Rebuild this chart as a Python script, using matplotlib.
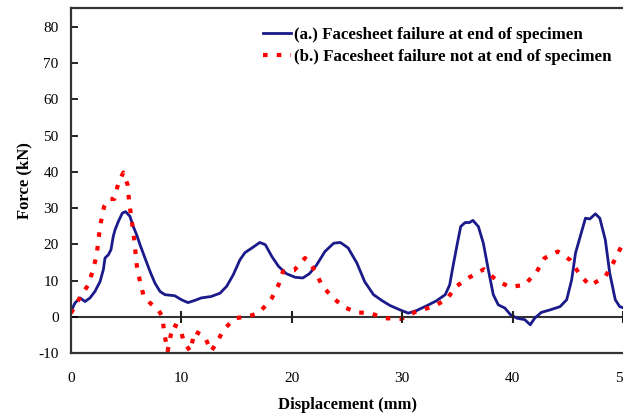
import numpy as np
import matplotlib
matplotlib.use('Agg')
import matplotlib.pyplot as plt

# (a.) facesheet failure at end of specimen
disp_a = [0.0, 0.36, 0.82, 1.27, 1.72, 2.17, 2.63, 2.93, 3.08, 3.38, 3.62, 3.83, 3.99, 4.29, 4.65,
          4.95, 5.34, 5.64, 5.95, 6.25, 6.7, 7.16, 7.6, 8.06, 8.5, 9.4, 10.0, 10.6, 11.2, 11.8,
          12.7, 13.5, 14.1, 14.7, 15.3, 15.76, 16.4, 17.1, 17.6, 18.2, 18.8, 19.5, 20.3, 21.0,
          21.6, 22.25, 23.0, 23.8, 24.4, 25.1, 25.9, 26.6, 27.4, 28.2, 28.9, 29.8, 30.55, 31.3,
          32.2, 33.1, 33.9, 34.3, 34.6, 35.0, 35.3, 35.7, 36.1, 36.4, 36.9, 37.35, 37.8, 38.25,
          38.7, 39.3, 39.8, 40.4, 41.1, 41.6, 42.0, 42.6, 43.4, 44.3, 44.9, 45.35, 45.7, 46.3,
          46.6, 47.0, 47.5, 47.9, 48.4, 48.8, 49.3, 49.7, 50.0]
force_a = [1.5, 3.8, 5.2, 4.2, 5.2, 7.0, 9.7, 13.0, 16.2, 17.1, 18.5, 22.2, 24.0, 26.3, 28.6,
           29.0, 27.7, 24.9, 22.6, 19.9, 16.2, 12.5, 9.3, 7.0, 6.1, 5.8, 4.7, 3.9, 4.5, 5.2,
           5.6, 6.5, 8.4, 11.6, 15.7, 17.7, 19.0, 20.5, 19.9, 16.6, 13.9, 11.9, 10.9, 10.7,
           11.9, 14.3, 18.0, 20.3, 20.5, 19.0, 14.8, 9.7, 6.1, 4.4, 3.1, 1.9, 1.0, 1.7,
           3.0, 4.4, 6.1, 8.8, 13.9, 20.3, 24.9, 26.0, 26.0, 26.6, 24.9, 20.3, 13.0, 6.1,
           3.3, 2.4, 0.6, -0.4, -0.8, -2.2, -0.4, 1.2, 1.9, 2.8, 4.7, 10.2, 17.6, 24.0,
           27.2, 27.0, 28.4, 27.2, 21.2, 12.0, 4.7, 2.8, 2.5]

# (b.) facesheet failure not at end of specimen
disp_b = [0.0, 0.9, 1.57, 2.0, 2.33, 2.5, 2.72, 3.0, 3.44, 3.92, 4.29, 4.74, 5.13, 5.25, 5.43,
          5.64, 5.8, 5.95, 6.25, 6.55, 7.16, 7.9, 8.27, 8.45, 8.75, 9.06, 9.27, 9.9, 10.2, 10.8,
          11.2, 12.1, 12.7, 13.2, 13.85, 14.85, 16.06, 16.97, 17.7, 18.2, 18.8, 19.2, 20.2, 21.2,
          22.1, 22.7, 23.6, 24.7, 25.9, 27.1, 28.4, 29.9, 31.3, 32.7, 34.0, 34.9, 36.1, 37.4,
          38.5, 39.7, 41.1, 42.2, 42.9, 44.1, 45.2, 46.1, 47.0, 48.4, 49.1, 49.85]
force_b = [1.0, 5.8, 8.8, 13.0, 17.1, 21.7, 26.3, 30.4, 32.5, 32.5, 36.9, 39.8, 36.4, 32.3, 28.1,
           23.5, 19.0, 14.3, 9.7, 6.1, 3.8, 1.9, 0.1, -4.5, -9.5, -4.7, -2.2, -3.1, -6.8, -9.5,
           -4.0, -5.4, -9.5, -7.1, -3.5, -0.4, 0.1, 1.0, 3.3, 5.2, 8.8, 12.5, 12.8, 16.2,
           12.8, 8.8, 5.6, 2.7, 1.2, 1.0, -0.4, -0.6, 1.5, 2.7, 4.7, 8.4, 10.9, 13.1,
           10.2, 8.2, 8.8, 12.5, 16.2, 18.0, 15.7, 11.6, 8.6, 11.1, 14.8, 19.4]

xticks = [0, 10, 20, 30, 40, 50]
yticks = [-10, 0, 10, 20, 30, 40, 50, 60, 70, 80]

plt.rcParams['font.family'] = ['Liberation Serif', 'DejaVu Serif']
plt.rcParams['axes.unicode_minus'] = False

fig = plt.figure(figsize=(6.23, 4.15), dpi=100)
ax = fig.add_axes([71/623, 1-353/415, 552/623, 345/415])

ax.plot(disp_a, force_a, color='#1a1a8a', lw=2, label='(a.) Facesheet failure at end of specimen')
ax.plot(disp_b, force_b, color='red', lw=3, dashes=(1.1, 2.2),
        label='(b.) Facesheet failure not at end of specimen')

# zero line with its own ticks
ax.axhline(0, color='#333333', lw=1.5, zorder=1)
ax.plot(xticks[1:], [0]*5, '|', color='#222222', markersize=9, mew=1.5, clip_on=False)

ax.set_xlim(0, 50)
ax.set_ylim(-10, 85.2)
ax.set_xticks(xticks)
ax.set_yticks(yticks)
ax.tick_params(axis='x', length=0, pad=14, labelsize=11)
ax.tick_params(axis='y', direction='in', length=5, width=1.2, labelsize=11, pad=9)

for s in ['left', 'top', 'bottom']:
    ax.spines[s].set_linewidth(1.6)
    ax.spines[s].set_color('#333333')
ax.spines['right'].set_visible(False)

ax.set_xlabel('Displacement (mm)', fontweight='bold', fontsize=12, labelpad=8)
ax.set_ylabel('Force (kN)', fontweight='bold', fontsize=12, labelpad=4)

leg = ax.legend(loc='upper right', bbox_to_anchor=(1.013, 1.0), frameon=False,
                prop={'weight': 'bold', 'size': 12.2}, handlelength=1.7,
                handletextpad=0.15, labelspacing=0.4, borderaxespad=0.7)

plt.savefig('out.png', dpi=100)
